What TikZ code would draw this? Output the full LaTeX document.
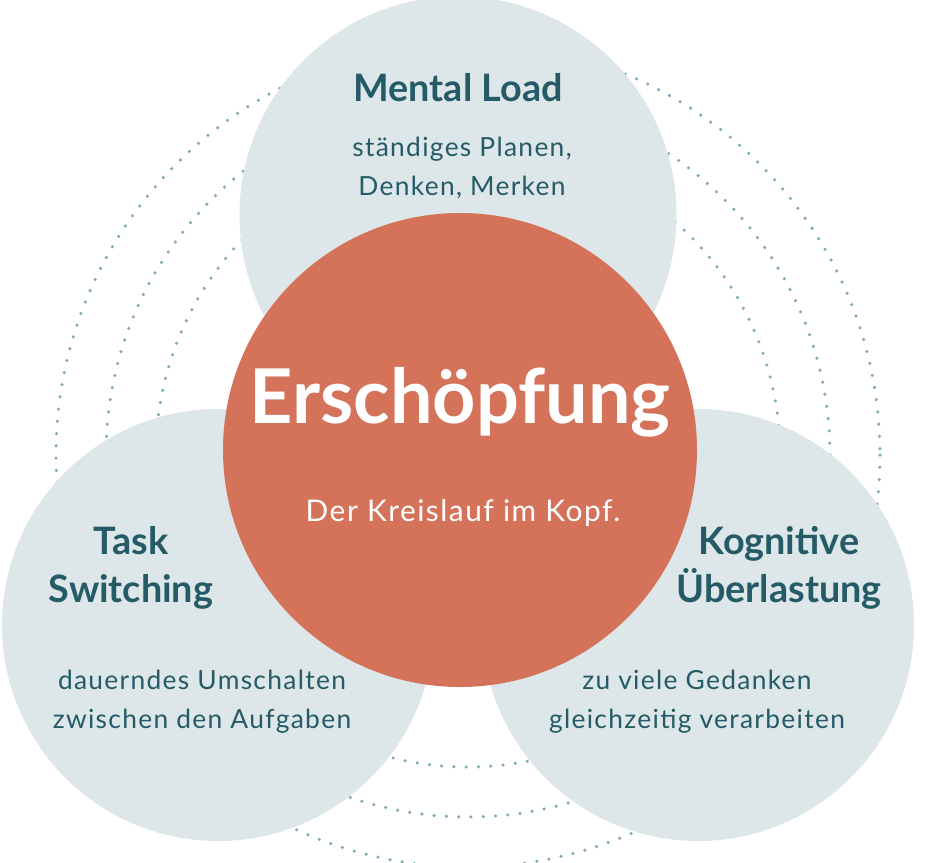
\documentclass[tikz,border=0pt]{standalone}
\usepackage{fontspec}
\setmainfont{Lato}[LetterSpace=5]
\newfontfamily\headfont{Lato}
\usetikzlibrary{positioning}
\definecolor{tealtext}{HTML}{245B67}
\definecolor{lightcirc}{HTML}{DDE6E8}
\definecolor{orangecirc}{HTML}{D4735A}
\definecolor{dotcol}{HTML}{7FADB5}
\tikzset{
  bubble/.style={circle, fill=lightcirc, inner sep=0pt},
  head/.style={text=tealtext, font=\headfont\bfseries\fontsize{21.5}{27}\selectfont, align=center},
  sub/.style={text=tealtext, font=\fontsize{15}{22}\selectfont, align=center},
  ring/.style={dotcol, line width=2pt, dash pattern=on 0pt off 7pt, line cap=round}
}
\begin{document}
\begin{tikzpicture}[x=0.02cm, y=-0.02cm]
    \useasboundingbox (0,0) rectangle (931,863);
    % dotted rings
    \foreach \r in {412, 362, 312} {
        \draw[ring] (468,455) circle[radius=\r];
    }
    % outer circles
    \node[bubble, minimum size=437*0.02cm] (load) at (458,215) {};
    \node[bubble, minimum size=432*0.02cm] (task) at (218,625) {};
    \node[bubble, minimum size=432*0.02cm] (kog) at (698,625) {};
    % centre
    \node[circle, fill=orangecirc, minimum size=474*0.02cm, inner sep=0pt] (core) at (460,450) {};
    \node[text=white, font=\headfont\bfseries\fontsize{43}{48}\selectfont] (title) at (460,402) {Erschöpfung};
    \node[text=white, font=\fontsize{17}{20}\selectfont] (subtitle) at (463,513) {Der Kreislauf im Kopf.};
    % labels
    \node[head] (loadhead) at (458,88) {Mental Load};
    \node[sub] (loadtext) at (462,168) {ständiges Planen,\\Denken, Merken};
    \node[head] (taskhead) at (131,568) {Task\\Switching};
    \node[sub] (tasktext) at (202,702) {dauerndes Umschalten\\zwischen den Aufgaben};
    \node[head] (koghead) at (779,568) {Kognitive\\Überlastung};
    \node[sub] (kogtext) at (697,702) {zu viele Gedanken\\gleichzeitig verarbeiten};
\end{tikzpicture}
\end{document}
